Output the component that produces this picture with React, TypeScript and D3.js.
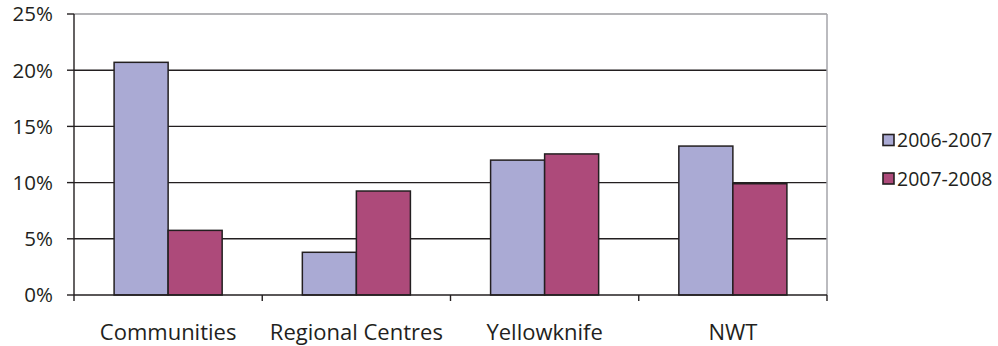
import React from "react";
import * as d3 from "d3";

const categories = ["Communities", "Regional Centres", "Yellowknife", "NWT"];
const seriesNames = ["2006-2007", "2007-2008"];
const values2006 = [20.7, 3.8, 12.0, 13.25];
const values2007 = [5.75, 9.25, 12.55, 9.9];
const yTicks = [0, 5, 10, 15, 20, 25];
const colors = ["#AAAAD4", "#AD4A7A"];

const W = 998;
const H = 346;
const margin = { left: 74, right: 171, top: 14, bottom: 51 };
const FONT = "'Open Sans', 'Noto Sans', sans-serif";
const INK = "#231F20";

export default function App() {
  const x0 = margin.left;
  const x1 = W - margin.right;
  const y0 = H - margin.bottom;
  const y1 = margin.top;
  const x = d3.scaleBand<string>().domain(categories).range([x0, x1]).paddingInner(0).paddingOuter(0);
  const y = d3.scaleLinear().domain([0, 25]).range([y0, y1]);
  const bw = x.bandwidth() * 0.287;
  const groupOffset = (x.bandwidth() - 2 * bw) / 2;
  const series = [values2006, values2007];

  return (
    <svg width={W} height={H} style={{ position: "absolute", left: 0, top: 0 }}>
      <rect x={0} y={0} width={W} height={H} fill="#fff" />
      {/* gridlines */}
      {yTicks.filter((t) => t > 0 && t < 25).map((t) => (
        <line key={t} x1={x0} x2={x1} y1={y(t)} y2={y(t)} stroke={INK} strokeWidth={1.4} />
      ))}
      {/* top & right border */}
      <line x1={x0} x2={x1} y1={y(25)} y2={y(25)} stroke="#9A9A9E" strokeWidth={1.5} />
      <line x1={x1} x2={x1} y1={y(25)} y2={y0} stroke="#A5A5AA" strokeWidth={1.5} />
      {/* bars */}
      {categories.map((c, i) =>
        series.map((s, j) => {
          const bx = (x(c) as number) + groupOffset + j * bw;
          return (
            <rect
              key={c + j}
              x={bx}
              y={y(s[i])}
              width={bw}
              height={y0 - y(s[i])}
              fill={colors[j]}
              stroke={INK}
              strokeWidth={1.5}
            />
          );
        })
      )}
      {/* axes */}
      <line x1={x0} x2={x0} y1={y1} y2={y0} stroke={INK} strokeWidth={1.4} />
      <line x1={x0} x2={x1} y1={y0} y2={y0} stroke={INK} strokeWidth={1.4} />
      {yTicks.map((t) => (
        <g key={t}>
          <line x1={x0 - 7} x2={x0} y1={y(t)} y2={y(t)} stroke={INK} strokeWidth={1.4} />
          <text x={53} y={y(t)} dy="0.36em" textAnchor="end" fontFamily={FONT} fontSize={20.5} fill={INK}>
            {t}%
          </text>
        </g>
      ))}
      {[...categories.map((c) => x(c) as number), x1].map((v, i) => (
        <line key={i} x1={v} x2={v} y1={y0} y2={y0 + 6} stroke={INK} strokeWidth={1.4} />
      ))}
      {categories.map((c) => (
        <text
          key={c}
          x={(x(c) as number) + x.bandwidth() / 2}
          y={340}
          textAnchor="middle"
          fontFamily={FONT}
          fontSize={22}
          fill={INK}
        >
          {c}
        </text>
      ))}
      {/* legend */}
      {seriesNames.map((n, j) => {
        const cy = 140 + j * 38.5;
        return (
          <g key={n}>
            <rect x={883} y={cy - 5.5} width={11} height={11} fill={colors[j]} stroke={INK} strokeWidth={1.6} />
            <text x={897} y={cy} dy="0.36em" fontFamily={FONT} fontSize={19.5} fill={INK}>
              {n}
            </text>
          </g>
        );
      })}
    </svg>
  );
}
